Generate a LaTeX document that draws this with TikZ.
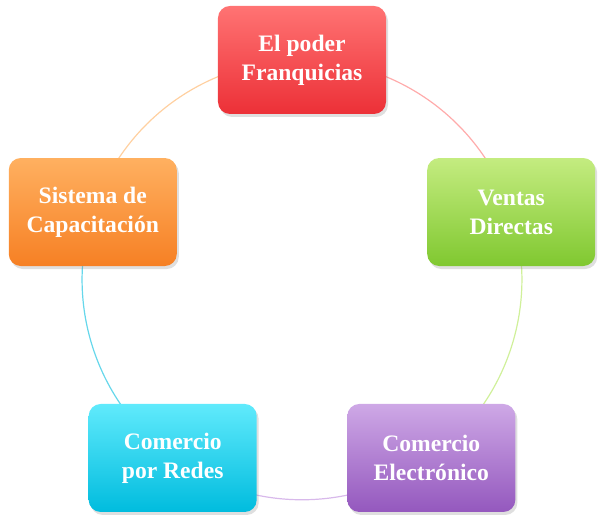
\documentclass[tikz,border=0pt]{standalone}
\usepackage{fontspec}
\setmainfont{Liberation Serif}
\usepackage{tikz}
\usetikzlibrary{shadows,backgrounds}

\definecolor{redtop}{RGB}{255,115,115}
\definecolor{redbot}{RGB}{236,48,55}
\definecolor{greentop}{RGB}{196,236,128}
\definecolor{greenbot}{RGB}{128,200,48}
\definecolor{purpletop}{RGB}{206,168,230}
\definecolor{purplebot}{RGB}{148,88,190}
\definecolor{cyantop}{RGB}{96,234,252}
\definecolor{cyanbot}{RGB}{0,188,222}
\definecolor{orangetop}{RGB}{255,176,96}
\definecolor{orangebot}{RGB}{246,128,36}

\begin{document}
\begin{tikzpicture}[
    box/.style={rounded corners=6pt, align=center, minimum width=84pt, minimum height=54pt, text=white, font=\bfseries\fontsize{11.8}{14.5}\selectfont, drop shadow={opacity=0.25, shadow xshift=1pt, shadow yshift=-1.5pt}},
    redbox/.style={box, top color=redtop, bottom color=redbot},
    greenbox/.style={box, top color=greentop, bottom color=greenbot},
    purplebox/.style={box, top color=purpletop, bottom color=purplebot},
    cyanbox/.style={box, top color=cyantop, bottom color=cyanbot},
    orangebox/.style={box, top color=orangetop, bottom color=orangebot},
    ring/.style={line width=0.6pt, bend left=36, looseness=0.94}
]
\useasboundingbox (-151pt,-124pt) rectangle (149pt,140pt);
\node[redbox] (poder) at (90:110pt) {El poder\\Franquicias};
\node[greenbox] (ventas) at (18:110pt) {Ventas\\Directas};
\node[purplebox] (electronico) at (-54:110pt) {Comercio\\Electrónico};
\node[cyanbox] (redes) at (-126:110pt) {Comercio\\por Redes};
\node[orangebox] (sistema) at (162:110pt) {Sistema de\\Capacitación};
% ring behind the boxes
\begin{scope}[on background layer]
\draw[ring, redtop!60] (poder.center) to (ventas.center);
\draw[ring, greentop!80] (ventas.center) to (electronico.center);
\draw[ring, purpletop!80] (electronico.center) to (redes.center);
\draw[ring, cyanbot!60] (redes.center) to (sistema.center);
\draw[ring, orangetop!60] (sistema.center) to (poder.center);
\end{scope}
\end{tikzpicture}
\end{document}
